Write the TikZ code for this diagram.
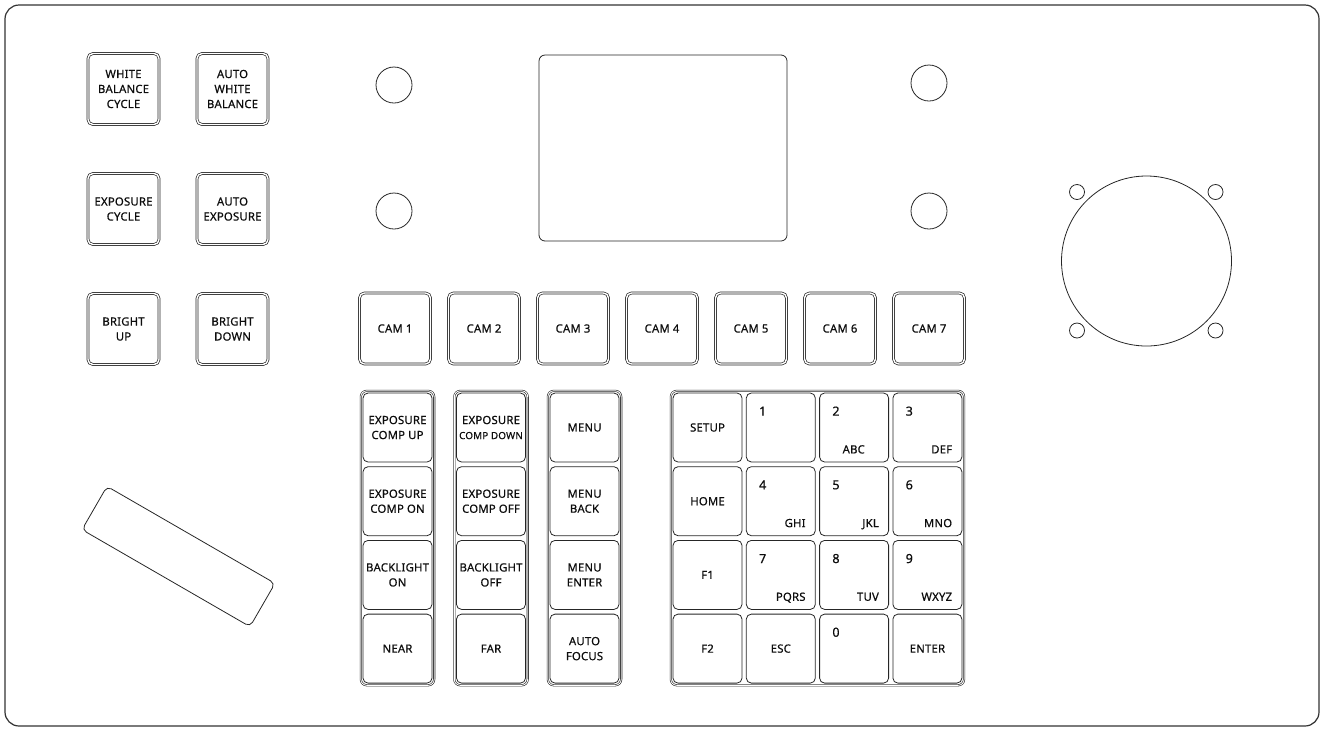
\documentclass[tikz,border=0pt]{standalone}
\usepackage{fontspec}
\setmainfont{Noto Sans}[FakeBold = 0.6, LetterSpace = 2]
\usetikzlibrary{fit}
\newcommand\keyfont{\fontsize{11.3}{15}\selectfont}
\newcommand\numfont{\fontsize{12.5}{15}\selectfont}
\tikzset{
    panel key/.style = {draw = black!85, line width = 0.7pt, double = white, double distance = 1.4pt, rounded corners = 5pt, minimum width = 71pt, minimum height = 71pt, inner sep = 0pt, align = center},
    pad key/.style = {draw = black!85, line width = 0.8pt, rounded corners = 5pt, minimum width = 69pt, minimum height = 69pt, inner sep = 0pt, align = center},
    pad group/.style = {draw = black!85, line width = 0.6pt, double = white, double distance = 0.9pt, rounded corners = 6pt, inner sep = 1.8pt},
    knob/.style = {draw = black!85, line width = 0.8pt, circle, inner sep = 0pt}
}
\begin{document}
\begin{tikzpicture}[x = 1pt, y = -1pt, every node/.append style = {font = \keyfont, text = black!95}]
    \useasboundingbox (0,0) rectangle (1324,732);
    \draw[line width = 1.2pt, rounded corners = 14pt, black!80] (5,5) rectangle (1319,726);

    % left keys
    \foreach \name/\cx/\cy/\txt in {wbc/123.5/89/{WHITE\\BALANCE\\CYCLE}, awb/232.5/89/{AUTO\\WHITE\\BALANCE},
            expc/123.5/209/{EXPOSURE\\CYCLE}, autoexp/232.5/209/{AUTO\\EXPOSURE},
            brup/123.5/329/{BRIGHT\\UP}, brdown/232.5/329/{BRIGHT\\DOWN}}
        \node[panel key] (\name) at (\cx,\cy) {\txt};

    % knobs, screen and joystick
    \foreach \name/\cx/\cy in {knobtl/394/85, knobbl/394/211, knobtr/929/83, knobbr/929/211}
        \node[knob, minimum size = 36pt] (\name) at (\cx,\cy) {};
    \node[draw = black!85, line width = 0.8pt, rounded corners = 6pt, minimum width = 248pt, minimum height = 186pt] (screen) at (663,148) {};
    \node[knob, minimum size = 170pt] (joystick) at (1146.5,261) {};
    \foreach \name/\cx/\cy in {holetl/1077/192, holetr/1215.5/192, holebl/1077/330.5, holebr/1215.5/330.5}
        \node[knob, minimum size = 15pt] (\name) at (\cx,\cy) {};
    \node[draw = black!85, line width = 0.8pt, rounded corners = 5pt, rotate = -30, minimum width = 194pt, minimum height = 50pt] (plate) at (178.5,556.5) {};

    % camera keys
    \foreach \i in {1, ..., 7}
        \node[panel key] (cam\i) at (395 + 89*\i - 89, 328.5) {CAM \i};

    % control columns
    \foreach \g/\r/\txt in {1/1/{EXPOSURE\\COMP UP}, 1/2/{EXPOSURE\\COMP ON}, 1/3/{BACKLIGHT\\ON}, 1/4/NEAR,
            2/1/{EXPOSURE\\{\fontsize{9.8}{15}\selectfont COMP DOWN}}, 2/2/{EXPOSURE\\COMP OFF}, 2/3/{BACKLIGHT\\OFF}, 2/4/FAR,
            3/1/MENU, 3/2/{MENU\\BACK}, 3/3/{MENU\\ENTER}, 3/4/{AUTO\\FOCUS}}
        \node[pad key] (g\g r\r) at (397.5 + 93.5*\g - 93.5, 427.5 + 73.7*\r - 73.7) {\txt};
    \foreach \g in {1, 2, 3}
        \node[pad group, fit = (g\g r1) (g\g r4)] (group\g) {};

    % keypad
    \foreach \name/\c/\r/\txt in {setup/1/1/SETUP, home/1/2/HOME, fone/1/3/F1, ftwo/1/4/F2, esc/2/4/ESC, enter/4/4/ENTER}
        \node[pad key] (\name) at (707.5 + 73.3*\c - 73.3, 427.5 + 73.7*\r - 73.7) {\txt};
    \foreach \n/\c/\r in {1/2/1, 0/3/4} {
        \node[pad key] (k\n) at (707.5 + 73.3*\c - 73.3, 427.5 + 73.7*\r - 73.7) {};
        \node[anchor = base west, font = \numfont, inner sep = 0pt] (k\n num) at ([shift = {(13,23)}]k\n.north west) {\n};
    }
    \foreach \n/\c/\r/\abc/\dx in {2/3/1/ABC/24, 3/4/1/DEF/10, 4/2/2/GHI/10, 5/3/2/JKL/10, 6/4/2/MNO/10,
            7/2/3/PQRS/10, 8/3/3/TUV/10, 9/4/3/WXYZ/10} {
        \node[pad key] (k\n) at (707.5 + 73.3*\c - 73.3, 427.5 + 73.7*\r - 73.7) {};
        \node[anchor = base west, font = \numfont, inner sep = 0pt] (k\n num) at ([shift = {(13,23)}]k\n.north west) {\n};
        \node[anchor = base east, inner sep = 0pt] (k\n abc) at ([shift = {(-\dx,-9)}]k\n.south east) {\abc};
    }
    \node[pad group, fit = (setup) (enter)] (keypad) {};
\end{tikzpicture}
\end{document}
